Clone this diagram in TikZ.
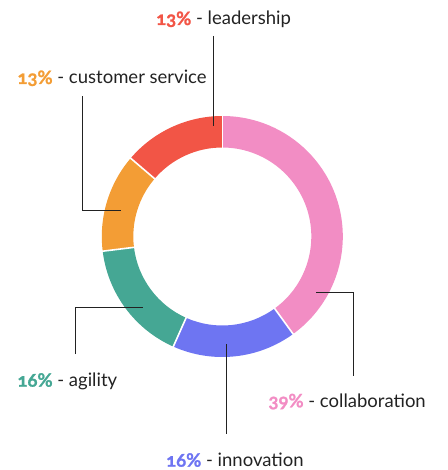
\documentclass[tikz,border=0pt]{standalone}
\usepackage{fontspec}
\setmainfont{Lato}[Numbers=OldStyle,BoldFeatures={FakeBold=1.2}]
\definecolor{cpink}{HTML}{F28DC4}
\definecolor{cblue}{HTML}{6E75F2}
\definecolor{cgreen}{HTML}{45A794}
\definecolor{corange}{HTML}{F39D35}
\definecolor{cred}{HTML}{F25546}
\definecolor{ctext}{HTML}{222222}
\begin{document}
\begin{tikzpicture}[x=1pt,y=1pt,
  lbl/.style={anchor=base west,inner sep=0pt,text=ctext,font=\fontsize{18.5}{22}\selectfont},
  leader/.style={draw=ctext,line width=1pt},
  sep/.style={draw=white,line width=1.6pt}]
\useasboundingbox (0,0) rectangle (447,-470);
\def\R{120.5}\def\r{89}
\coordinate (c) at (222.3,-236.5);
\newcommand{\seg}[3]{\fill[#3] ([shift={(#1:\R)}]c) arc[start angle=#1,end angle=#2,radius=\R] -- ([shift={(#2:\r)}]c) arc[start angle=#2,end angle=#1,radius=\r] -- cycle;}
\seg{90}{-54}{cpink}
\seg{-54}{-114}{cblue}
\seg{-114}{-173}{cgreen}
\seg{-173}{-220.5}{corange}
\seg{-220.5}{-270}{cred}
\foreach \a in {90,-54,-114,-173,-220.5}
  \draw[sep] ([shift={(\a:\r-1)}]c) -- ([shift={(\a:\R+1)}]c);
% labels
\node[lbl] (lead) at (156,-25) {\textbf{\textcolor{cred}{13\%}} - leadership};
\node[lbl] (cust) at (17.3,-84) {\textbf{\textcolor{corange}{13\%}} - customer service};
\node[lbl] (agil) at (17.3,-386.7) {\textbf{\textcolor{cgreen}{16\%}} - agility};
\node[lbl] (coll) at (268.3,-407.3) {\textbf{\textcolor{cpink}{39\%}} - collaboration};
\node[lbl] (inno) at (166,-466.7) {\textbf{\textcolor{cblue}{16\%}} - innovation};
% leader lines
\coordinate (leadA) at (213.5,-36);
\coordinate (leadB) at (213.5,-126);
\draw[leader] (leadA) -- (leadB);
\coordinate (custA) at (82,-96.5);
\coordinate (custB) at (120.7,-210);
\draw[leader] (custA) |- (custB);
\coordinate (agilA) at (75.7,-354);
\coordinate (agilB) at (143.3,-307.7);
\draw[leader] (agilA) |- (agilB);
\coordinate (innoA) at (226,-344.3);
\coordinate (innoB) at (226,-434.3);
\draw[leader] (innoA) -- (innoB);
\coordinate (collA) at (316,-292.7);
\coordinate (collB) at (353.3,-375.7);
\draw[leader] (collA) -| (collB);
\end{tikzpicture}
\end{document}
